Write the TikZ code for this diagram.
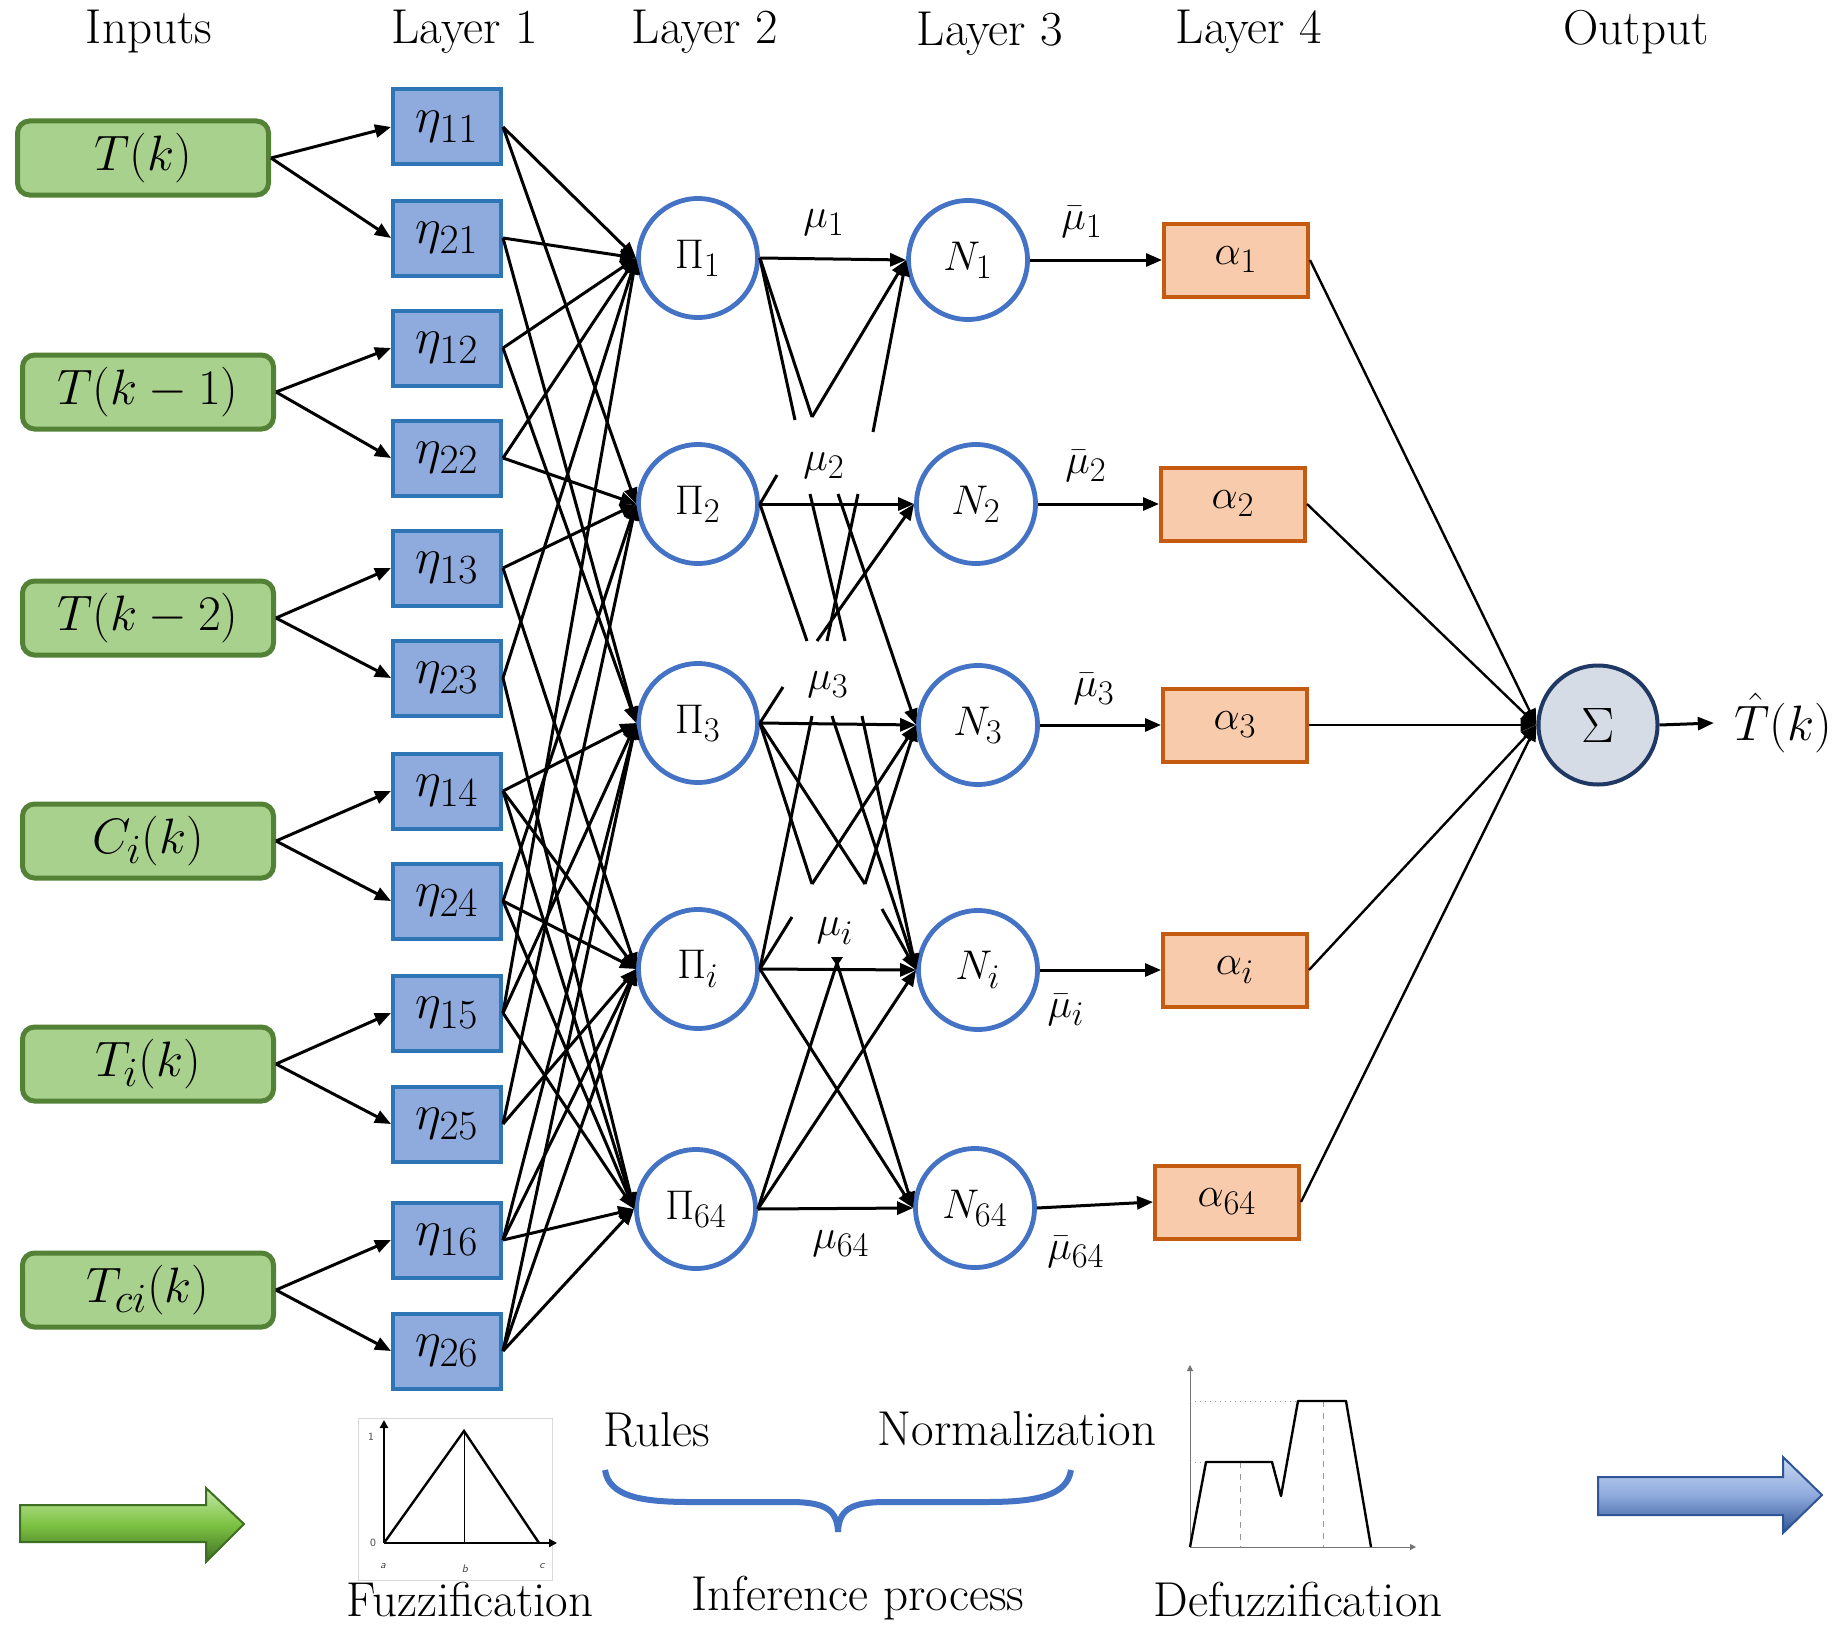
\documentclass[tikz,border=0pt]{standalone}
\usetikzlibrary{arrows.meta,calc}
\DeclareMathSizes{25}{25}{20}{16}
\DeclareMathSizes{24}{24}{19}{15}
\DeclareMathSizes{22}{22}{18}{14}
\DeclareMathSizes{21}{21}{17}{13}
\definecolor{InFill}{HTML}{A9D18E}
\definecolor{InBorder}{HTML}{538135}
\definecolor{EtaFill}{HTML}{8FAADC}
\definecolor{EtaBorder}{HTML}{2E75B6}
\definecolor{CircBlue}{HTML}{4472C4}
\definecolor{AlFill}{HTML}{F8CBAD}
\definecolor{AlBorder}{HTML}{C55A11}
\definecolor{SigFill}{HTML}{D6DCE5}
\definecolor{SigBorder}{HTML}{1F3864}
\definecolor{GArrowDark}{HTML}{3D6E22}
\definecolor{GArrowMid}{HTML}{7CC242}
\definecolor{GArrowLight}{HTML}{C5E8A4}
\definecolor{BArrowDark}{HTML}{2F5597}
\definecolor{BArrowMid}{HTML}{8FAADC}
\definecolor{BArrowLight}{HTML}{C9DAF2}
\begin{document}
\begin{tikzpicture}[x=0.5pt,y=-0.5pt,
  every node/.style={font=\fontsize{25}{30}\selectfont, inner sep=0pt},
  inbox/.style={draw=InBorder, fill=InFill, line width=2.5pt, rounded corners=6pt, minimum width=125.5pt, minimum height=37pt},
  etabox/.style={draw=EtaBorder, fill=EtaFill, line width=2pt, minimum width=54pt, minimum height=37.5pt},
  rnode/.style={circle, draw=CircBlue, fill=white, line width=2.4pt, minimum size=59.5pt, font=\fontsize{21}{25}\selectfont},
  albox/.style={draw=AlBorder, fill=AlFill, line width=2pt, minimum width=72pt, minimum height=36.5pt, font=\fontsize{22}{26}\selectfont},
  signode/.style={circle, draw=SigBorder, fill=SigFill, line width=2pt, minimum size=59.5pt},
  conn/.style={line width=1.5pt, draw=black},
  arr/.style={conn, -{Triangle[length=8pt,width=6.5pt]}},
  thinarr/.style={line width=1.2pt, draw=black, -{Triangle[length=8pt,width=6.5pt]}},
  label/.style={font=\fontsize{24.5}{29}\selectfont},
  mulabel/.style={font=\fontsize{22}{26}\selectfont},
  tiny/.style={font=\sffamily\fontsize{5.5}{6}\selectfont, text=black!70}]

\fill[white] (0,0) rectangle (1837,1632);
\useasboundingbox (0,0) rectangle (1837,1632);

% headers
\node[label] (h0) at (149,32) {Inputs};
\node[label] (h1) at (465,32) {Layer 1};
\node[label] (h2) at (705,32) {Layer 2};
\node[label] (h3) at (990,34) {Layer 3};
\node[label] (h4) at (1249,32) {Layer 4};
\node[label] (h5) at (1636,32) {Output};

% inputs
\node[inbox] (in1) at (143,158) {$T(k)$};
\node[inbox] (in2) at (148,392) {$T(k-1)$};
\node[inbox] (in3) at (148,618) {$T(k-2)$};
\node[inbox] (in4) at (148,841) {$C_i(k)$};
\node[inbox] (in5) at (148,1064) {$T_i(k)$};
\node[inbox] (in6) at (148,1290) {$T_{ci}(k)$};

% layer 1
\node[etabox] (e11) at (447,127) {$\eta_{11}$};
\node[etabox] (e21) at (447,238) {$\eta_{21}$};
\node[etabox] (e12) at (447,348) {$\eta_{12}$};
\node[etabox] (e22) at (447,458) {$\eta_{22}$};
\node[etabox] (e13) at (447,568) {$\eta_{13}$};
\node[etabox] (e23) at (447,678) {$\eta_{23}$};
\node[etabox] (e14) at (447,791) {$\eta_{14}$};
\node[etabox] (e24) at (447,901) {$\eta_{24}$};
\node[etabox] (e15) at (447,1013) {$\eta_{15}$};
\node[etabox] (e25) at (447,1124) {$\eta_{25}$};
\node[etabox] (e16) at (447,1240) {$\eta_{16}$};
\node[etabox] (e26) at (447,1351) {$\eta_{26}$};

% layer 2
\node[rnode] (p1) at (698,258) {$\Pi_1$};
\node[rnode] (p2) at (698,504) {$\Pi_2$};
\node[rnode] (p3) at (698,723) {$\Pi_3$};
\node[rnode] (pi) at (698,969) {$\Pi_i$};
\node[rnode] (p64) at (696,1209) {$\Pi_{64}$};

% layer 3
\node[rnode] (n1) at (968,260) {$N_1$};
\node[rnode] (n2) at (976,504) {$N_2$};
\node[rnode] (n3) at (978,725) {$N_3$};
\node[rnode] (ni) at (978,970) {$N_i$};
\node[rnode] (n64) at (975,1208) {$N_{64}$};

% layer 4
\node[albox] (a1) at (1236,260) {$\alpha_1$};
\node[albox] (a2) at (1233,504) {$\alpha_2$};
\node[albox] (a3) at (1235,725) {$\alpha_3$};
\node[albox] (ai) at (1235,970) {$\alpha_i$};
\node[albox] (a64) at (1227,1202) {$\alpha_{64}$};

% output
\node[signode] (sg) at (1598,725) {$\Sigma$};
\node[inner xsep=10pt, font=\fontsize{24}{28}\selectfont] (out) at (1783,723) {$\hat{T}(k)$};

% inputs -> layer 1
\foreach \i/\a/\b in {in1/e11/e21, in2/e12/e22, in3/e13/e23, in4/e14/e24, in5/e15/e25, in6/e16/e26}{
  \draw[arr] (\i.east) -- (\a.west);
  \draw[arr] (\i.east) -- (\b.west);
}

% layer 1 -> layer 2
\foreach \e/\p in {e11/p1, e11/p2, e21/p1, e21/p3, e12/p1, e12/p3, e22/p1, e22/p2,
  e13/p2, e13/pi, e23/p1, e23/p64, e14/p3, e14/pi, e14/p64,
  e24/p2, e24/pi, e24/p64, e15/p1, e15/p3, e15/p64, e25/p2, e25/pi,
  e16/p3, e16/pi, e16/p64, e26/p3, e26/pi, e26/p64}{
  \draw[arr] (\e.east) -- (\p.west);
}

% layer 2 -> layer 3 (interrupted lines)
\coordinate (t1a) at (795,420);
\coordinate (t1b) at (812,417);
\coordinate (t1c) at (873,432);
\coordinate (t2a) at (777,475);
\coordinate (t2b) at (807,641);
\coordinate (t2c) at (810,494);
\coordinate (t2d) at (845,641);
\coordinate (t2e) at (838,494);
\coordinate (t2f) at (858,494);
\coordinate (t2g) at (827,641);
\coordinate (t2h) at (817,641);
\coordinate (t3a) at (783,687);
\coordinate (t3b) at (812,716);
\coordinate (t3c) at (832,716);
\coordinate (t3d) at (862,716);
\coordinate (t3e) at (812,884);
\coordinate (t3f) at (865,884);
\coordinate (tia) at (792,917);
\coordinate (tib) at (882,909);
\coordinate (tic) at (837,963);

\draw[arr] (p1.east) -- (n1.west);
\draw[conn] (p1.east) -- (t1a);
\draw[conn] (p1.east) -- (t1b);
\draw[arr] (t1b) -- (n1.west);
\draw[arr] (t1c) -- (n1.west);
\draw[conn] (p2.east) -- (t2a);
\draw[arr] (p2.east) -- (n2.west);
\draw[conn] (p2.east) -- (t2b);
\draw[conn] (t2c) -- (t2d);
\draw[arr] (t2e) -- (n3.west);
\draw[conn] (t2f) -- (t2g);
\draw[arr] (t2h) -- (n2.west);
\draw[conn] (p3.east) -- (t3a);
\draw[arr] (p3.east) -- (n3.west);
\draw[conn] (t3b) -- (pi.east);
\draw[arr] (t3c) -- (ni.west);
\draw[arr] (t3d) -- (ni.west);
\draw[conn] (p3.east) -- (t3e);
\draw[arr] (t3e) -- (n3.west);
\draw[conn] (p3.east) -- (t3f);
\draw[arr] (t3f) -- (n3.west);
\draw[arr] (tib) -- (ni.west);
\draw[conn] (pi.east) -- (tia);
\draw[arr] (pi.east) -- (ni.west);
\draw[arr] (pi.east) -- (n64.west);
\draw[arr] (p64.east) -- (n64.west);
\draw[arr] (p64.east) -- (ni.west);
\draw[conn] (p64.east) -- (tic);
\draw[arr] (tic) -- (n64.west);
\fill (831,957) -- (843,957) -- (837,966) -- cycle;

% mu labels
\node[mulabel] (m1) at (824,223) {$\mu_1$};
\node[mulabel] (m2) at (824,466) {$\mu_2$};
\node[mulabel] (m3) at (828,685) {$\mu_3$};
\node[mulabel] (mi) at (835,931) {$\mu_i$};
\node[mulabel] (m64) at (841,1244) {$\mu_{64}$};
\node[mulabel] (b1) at (1082,222) {$\bar{\mu}_1$};
\node[mulabel] (b2) at (1086,466) {$\bar{\mu}_2$};
\node[mulabel] (b3) at (1094,689) {$\bar{\mu}_3$};
\node[mulabel] (bi) at (1066,1010) {$\bar{\mu}_i$};
\node[mulabel] (b64) at (1076,1252) {$\bar{\mu}_{64}$};

% layer 3 -> layer 4
\draw[arr] (n1.east) -- (a1.west);
\draw[arr] (n2.east) -- (a2.west);
\draw[arr] (n3.east) -- (a3.west);
\draw[arr] (ni.east) -- (ai.west);
\draw[arr] (n64.east) -- (a64.west);

% layer 4 -> sum
\foreach \a in {a1,a2,a3,ai,a64}{
  \draw[thinarr] (\a.east) -- (sg.west);
}
\draw[arr] (sg.east) -- (out.west);

% bottom: green arrow
\path[draw=GArrowDark, line width=1pt, top color=GArrowLight, bottom color=GArrowDark, middle color=GArrowMid]
  (20,1505) -- (206,1505) -- (206,1488) -- (244,1524) -- (206,1562) -- (206,1542) -- (20,1542) -- cycle;
% bottom: blue arrow
\path[draw=BArrowDark, line width=1pt, top color=BArrowLight, bottom color=BArrowDark, middle color=BArrowMid]
  (1598,1477) -- (1783,1477) -- (1783,1457) -- (1822,1495) -- (1783,1533) -- (1783,1515) -- (1598,1515) -- cycle;

% fuzzification chart
\draw[black!15, line width=0.5pt] (358,1418) rectangle (552,1580);
\draw[line width=1.3pt, -{Triangle[length=4pt,width=4pt]}] (384,1543) -- (384,1420);
\draw[line width=1.3pt, -{Triangle[length=4pt,width=4pt]}] (384,1543) -- (557,1543);
\draw[line width=1.2pt] (384,1543) -- (464,1431) -- (539,1543);
\draw[line width=0.4pt] (464,1431) -- (464,1543);
\node[tiny] (l1) at (371,1437) {1};
\node[tiny] (l0) at (373,1543) {0};
\node[tiny] (la) at (383,1566) {\itshape a};
\node[tiny] (lb) at (465,1569) {\itshape b};
\node[tiny] (lc) at (542,1566) {\itshape c};

% defuzzification chart
\draw[black!55, line width=0.5pt, -{Triangle[length=3pt,width=3pt]}] (1190,1547) -- (1190,1365);
\draw[black!55, line width=0.5pt, -{Triangle[length=3pt,width=3pt]}] (1190,1547) -- (1416,1547);
\draw[black!40, line width=0.5pt, dotted] (1190,1462) -- (1206,1462);
\draw[black!40, line width=0.5pt, dotted] (1190,1401) -- (1311,1401);
\draw[black!40, line width=0.4pt, dashed] (1240,1462) -- (1240,1547);
\draw[black!40, line width=0.4pt, dashed] (1323,1401) -- (1323,1547);
\draw[line width=1.2pt, line join=round] (1190,1547) -- (1206,1462) -- (1272,1462) -- (1281,1496) -- (1298,1401) -- (1346,1401) -- (1371,1547);

% brace
\draw[CircBlue, line width=3pt]
  (605,1470) .. controls (609,1496) and (640,1502) .. (690,1502)
  -- (790,1502) .. controls (826,1502) and (837,1510) .. (838,1532)
  .. controls (839,1510) and (850,1502) .. (886,1502)
  -- (986,1502) .. controls (1036,1502) and (1067,1496) .. (1071,1470);

% bottom labels
\node[label] (rules) at (657,1430) {Rules};
\node[label] (norm) at (1017,1429) {Normalization};
\node[label] (fuzz) at (470,1599) {Fuzzification};
\node[label] (inf) at (858,1598) {Inference process};
\node[label] (defuzz) at (1298,1599) {Defuzzification};
\end{tikzpicture}
\end{document}
